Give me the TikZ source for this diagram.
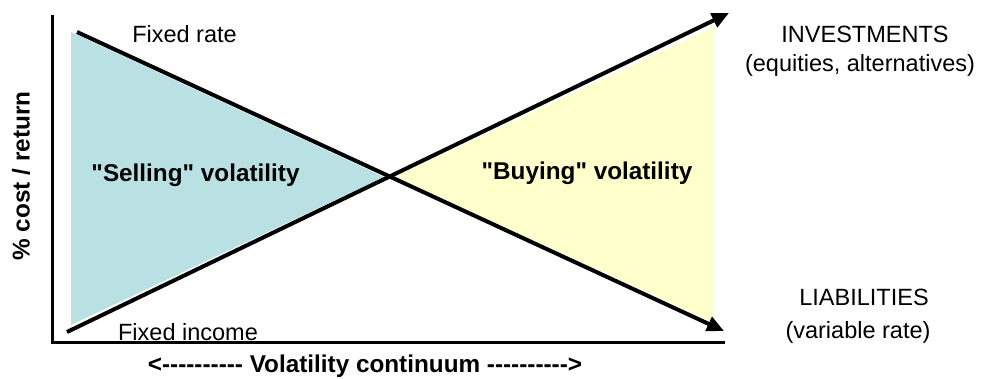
\documentclass[tikz,border=0pt]{standalone}
\usepackage{fontspec}
\newfontfamily\arialfam{Liberation Sans}
\usetikzlibrary{arrows.meta}
\definecolor{sellblue}{RGB}{185,224,227}
\definecolor{buyyellow}{RGB}{255,255,204}
\begin{document}
\begin{tikzpicture}[x=1pt,y=1pt,
  lbl/.style={inner sep=0pt, font=\arialfam\fontsize{23.5}{28}\selectfont},
  blbl/.style={inner sep=0pt, font=\arialfam\fontsize{24.3}{28}\selectfont\bfseries},
  axisline/.style={line width=3pt},
  trend/.style={line width=4pt, -{Triangle[length=17pt,width=15pt]}}]
\useasboundingbox (0,0) rectangle (982,379);
% fills
\fill[sellblue] (71,347) -- (71,54) -- (384,202) -- cycle;
\fill[buyyellow] (395,202) -- (714,352) -- (714,56) -- cycle;
% axes
\coordinate (ytop) at (52,364);
\coordinate (orig) at (52,36);
\coordinate (xend) at (725,36);
\draw[axisline] (ytop) -- (orig) -- (xend);
% trend lines
\coordinate (fixrate) at (77,347);
\coordinate (liab) at (724,48);
\coordinate (fixinc) at (67,47);
\coordinate (inv) at (729,366);
\draw[trend] (fixrate) -- (liab);
\draw[trend] (fixinc) -- (inv);
% labels
\node[lbl, anchor=base] (lfr) at (184.5,336) {Fixed rate};
\node[lbl, anchor=base] (lfi) at (188,38) {Fixed income};
\node[blbl, anchor=base] (lsell) at (195.5,197) {"Selling" volatility};
\node[blbl, anchor=base] (lbuy) at (587,199) {"Buying" volatility};
\node[lbl, anchor=base] (linv1) at (865,336) {INVESTMENTS};
\node[lbl, anchor=base] (linv2) at (860,307) {(equities, alternatives)};
\node[lbl, anchor=base] (lliab1) at (864,73) {LIABILITIES};
\node[lbl, anchor=base] (lliab2) at (858,40) {(variable rate)};
\node[blbl, anchor=base] (xlab) at (365,6) {<---------- Volatility continuum ---------->};
\node[blbl, rotate=90, anchor=center] (ylab) at (21,203) {\% cost / return};
\end{tikzpicture}
\end{document}
